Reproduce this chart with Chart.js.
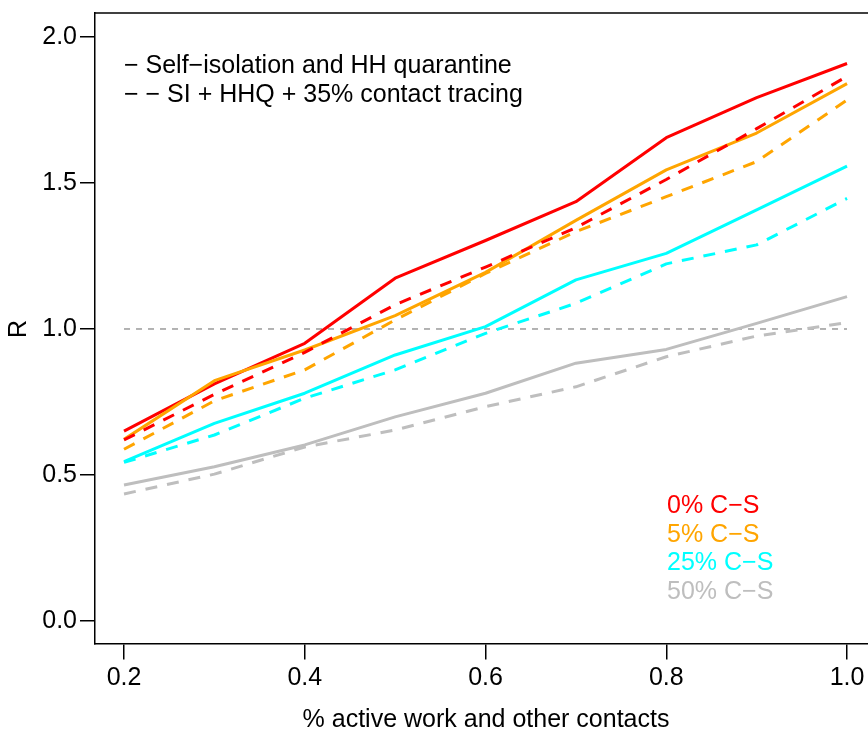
<!DOCTYPE html>
<html lang="en">
<head>
    <meta charset="UTF-8">
    <title>R vs % active work and other contacts</title>
    <style>
        body {
            margin: 0;
            padding: 0;
            background-color: #fff;
            overflow: hidden;
        }
        canvas {
            display: block;
        }
    </style>
</head>
<body>
    <canvas id="rChart" width="868" height="729"></canvas>
    <script src="https://cdn.jsdelivr.net/npm/chart.js"></script>
    <script>
        // x values (% active work and other contacts)
        const xVals = [0.2, 0.3, 0.4, 0.5, 0.6, 0.7, 0.8, 0.9, 1.0];
        const xTicks = [0.2, 0.4, 0.6, 0.8, 1.0];
        const yTicks = [0.0, 0.5, 1.0, 1.5, 2.0];

        // self-isolation and HH quarantine (solid)
        const red0 = [0.650, 0.812, 0.951, 1.174, 1.303, 1.436, 1.655, 1.792, 1.909];
        const orange5 = [0.622, 0.823, 0.928, 1.046, 1.194, 1.372, 1.545, 1.671, 1.840];
        const cyan25 = [0.546, 0.677, 0.780, 0.911, 1.008, 1.168, 1.259, 1.408, 1.558];
        const grey50 = [0.466, 0.528, 0.603, 0.699, 0.780, 0.883, 0.930, 1.019, 1.111];

        // SI + HHQ + 35% contact tracing (dashed)
        const red0CT = [0.620, 0.776, 0.920, 1.083, 1.212, 1.347, 1.512, 1.686, 1.865];
        const orange5CT = [0.588, 0.754, 0.860, 1.031, 1.190, 1.333, 1.453, 1.573, 1.784];
        const cyan25CT = [0.543, 0.637, 0.763, 0.860, 0.985, 1.088, 1.223, 1.288, 1.447];
        const grey50CT = [0.435, 0.503, 0.596, 0.654, 0.734, 0.802, 0.905, 0.976, 1.022];

        // R = 1 reference
        const refX = [0.2, 1.0];
        const refY = [1.0, 1.0];

        const groupLabels = ['0% C\u2212S', '5% C\u2212S', '25% C\u2212S', '50% C\u2212S'];
        const groupColors = ['#ff0000', '#ffa500', '#00ffff', '#bebebe'];

        const FONT = '"Liberation Sans", Arial, sans-serif';

        function pts(ys) {
            return xVals.map((x, i) => ({ x: x, y: ys[i] }));
        }

        function line(label, ys, color, dashed, order) {
            return {
                label: label,
                data: pts(ys),
                borderColor: color,
                borderWidth: 3,
                borderDash: dashed ? [12, 10] : [],
                borderCapStyle: 'butt',
                borderJoinStyle: 'round',
                pointRadius: 0,
                tension: 0,
                fill: false,
                order: order
            };
        }

        // draws the box top, axis titles and the text legends
        const extras = {
            id: 'extras',
            afterDraw(chart) {
                const ctx = chart.ctx;
                const area = chart.chartArea;
                ctx.save();
                ctx.strokeStyle = '#000';
                ctx.lineWidth = 1.5;
                ctx.beginPath();
                ctx.moveTo(area.left, area.top);
                ctx.lineTo(area.right, area.top);
                ctx.stroke();

                ctx.fillStyle = '#000';
                ctx.font = '25px ' + FONT;
                ctx.textBaseline = 'alphabetic';
                ctx.textAlign = 'left';
                ctx.fillText('\u2212 Self\u2212isolation and HH quarantine', 124, 73);
                ctx.fillText('\u2212 \u2212 SI + HHQ + 35% contact tracing', 124, 101.5);

                groupLabels.forEach((t, i) => {
                    ctx.fillStyle = groupColors[i];
                    ctx.fillText(t, 667, 513 + i * 28.5);
                });

                ctx.fillStyle = '#000';
                ctx.textAlign = 'center';
                ctx.fillText('% active work and other contacts', 486, 727);

                ctx.translate(26, 329);
                ctx.rotate(-Math.PI / 2);
                ctx.fillText('R', 0, 0);
                ctx.restore();
            }
        };

        new Chart(document.getElementById('rChart').getContext('2d'), {
            type: 'line',
            data: {
                datasets: [
                    {
                        label: 'R = 1',
                        data: refX.map((x, i) => ({ x: x, y: refY[i] })),
                        borderColor: '#9a9a9a',
                        borderWidth: 1.5,
                        borderDash: [6, 6],
                        pointRadius: 0,
                        fill: false,
                        order: 10
                    },
                    line('0% C-S', red0, groupColors[0], false, 8),
                    line('5% C-S', orange5, groupColors[1], false, 7),
                    line('25% C-S', cyan25, groupColors[2], false, 6),
                    line('50% C-S', grey50, groupColors[3], false, 5),
                    line('0% C-S + CT', red0CT, groupColors[0], true, 4),
                    line('5% C-S + CT', orange5CT, groupColors[1], true, 3),
                    line('25% C-S + CT', cyan25CT, groupColors[2], true, 2),
                    line('50% C-S + CT', grey50CT, groupColors[3], true, 1)
                ]
            },
            options: {
                responsive: false,
                animation: false,
                layout: {
                    padding: { top: 13, right: 0, bottom: 0, left: 0 }
                },
                plugins: {
                    legend: { display: false },
                    tooltip: { enabled: false }
                },
                scales: {
                    x: {
                        type: 'linear',
                        min: 0.1679,
                        max: 1.0232,
                        afterBuildTicks: (scale) => {
                            scale.ticks = xTicks.map(v => ({ value: v }));
                        },
                        afterFit: (scale) => {
                            scale.height = 85.5;
                            scale.paddingLeft = 0;
                            scale.paddingRight = 0;
                        },
                        grid: {
                            drawOnChartArea: false,
                            drawTicks: true,
                            tickLength: 16,
                            color: '#000',
                            lineWidth: 1.5
                        },
                        border: { display: true, color: '#000', width: 1.5 },
                        ticks: {
                            color: '#000',
                            font: { family: FONT, size: 25 },
                            padding: 4,
                            maxRotation: 0,
                            autoSkip: false,
                            callback: (v) => v.toFixed(1)
                        }
                    },
                    y: {
                        type: 'linear',
                        min: -0.077,
                        max: 2.082,
                        afterBuildTicks: (scale) => {
                            scale.ticks = yTicks.map(v => ({ value: v }));
                        },
                        afterFit: (scale) => {
                            scale.width = 95;
                            scale.paddingTop = 0;
                            scale.paddingBottom = 0;
                        },
                        grid: {
                            drawOnChartArea: false,
                            drawTicks: true,
                            tickLength: 15,
                            color: '#000',
                            lineWidth: 1.5
                        },
                        border: { display: true, color: '#000', width: 1.5 },
                        ticks: {
                            color: '#000',
                            font: { family: FONT, size: 25 },
                            padding: 3,
                            autoSkip: false,
                            callback: (v) => v.toFixed(1)
                        }
                    }
                }
            },
            plugins: [extras]
        });
    </script>
</body>
</html>
